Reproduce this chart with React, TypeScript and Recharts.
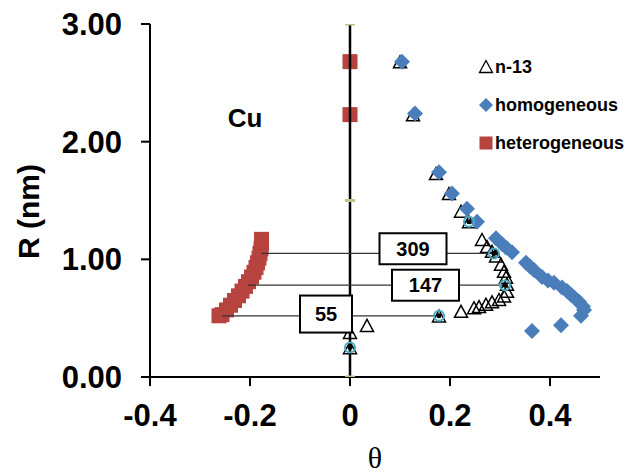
import React from "react";
import { ScatterChart, Scatter, XAxis, YAxis, ReferenceDot, Legend } from "recharts";

// theta (x) vs R in nm (y)
const n13Points = [
  { x: 0.1, y: 2.67 }, { x: 0.126, y: 2.22 }, { x: 0.172, y: 1.72 }, { x: 0.198, y: 1.55 },
  { x: 0.222, y: 1.4 }, { x: 0.238, y: 1.31 }, { x: 0.264, y: 1.16 }, { x: 0.274, y: 1.1 },
  { x: 0.284, y: 1.06 }, { x: 0.292, y: 1.02 }, { x: 0.302, y: 0.95 }, { x: 0.308, y: 0.89 },
  { x: 0.312, y: 0.84 }, { x: 0.314, y: 0.78 }, { x: 0.314, y: 0.72 }, { x: 0.308, y: 0.68 },
  { x: 0.298, y: 0.65 }, { x: 0.284, y: 0.63 }, { x: 0.272, y: 0.61 }, { x: 0.258, y: 0.59 },
  { x: 0.248, y: 0.58 }, { x: 0.222, y: 0.55 }, { x: 0.178, y: 0.51 }, { x: 0.034, y: 0.43 },
  { x: 0, y: 0.37 }, { x: 0, y: 0.24 },
];

const homogeneousPoints = [
  { x: 0.104, y: 2.68 }, { x: 0.13, y: 2.24 }, { x: 0.178, y: 1.74 }, { x: 0.204, y: 1.56 },
  { x: 0.234, y: 1.43 }, { x: 0.254, y: 1.32 }, { x: 0.292, y: 1.18 }, { x: 0.304, y: 1.13 },
  { x: 0.312, y: 1.1 }, { x: 0.324, y: 1.06 }, { x: 0.352, y: 0.97 }, { x: 0.36, y: 0.94 },
  { x: 0.368, y: 0.91 }, { x: 0.384, y: 0.85 }, { x: 0.396, y: 0.82 }, { x: 0.408, y: 0.8 },
  { x: 0.424, y: 0.76 }, { x: 0.434, y: 0.73 }, { x: 0.442, y: 0.7 }, { x: 0.45, y: 0.67 },
  { x: 0.458, y: 0.64 }, { x: 0.466, y: 0.6 }, { x: 0.468, y: 0.57 }, { x: 0.462, y: 0.52 },
  { x: 0.422, y: 0.44 }, { x: 0.364, y: 0.39 },
];

const heterogeneousPoints = [
  { x: 0, y: 2.68 }, { x: 0, y: 2.23 },
  { x: -0.177, y: 1.17 }, { x: -0.177, y: 1.13 }, { x: -0.178, y: 1.09 }, { x: -0.18, y: 1.05 },
  { x: -0.182, y: 1.01 }, { x: -0.185, y: 0.97 }, { x: -0.188, y: 0.93 }, { x: -0.192, y: 0.89 },
  { x: -0.197, y: 0.85 }, { x: -0.203, y: 0.81 }, { x: -0.209, y: 0.77 }, { x: -0.216, y: 0.73 },
  { x: -0.223, y: 0.69 }, { x: -0.231, y: 0.65 }, { x: -0.239, y: 0.61 }, { x: -0.247, y: 0.57 },
  { x: -0.256, y: 0.53 }, { x: -0.262, y: 0.52 },
];

// highlighted end points (teal rings)
const markedPoints = [
  { x: 0, y: 0.25 }, { x: 0.178, y: 0.52 }, { x: 0.31, y: 0.78 }, { x: 0.288, y: 1.05 }, { x: 0.238, y: 1.32 },
];

const zeroLine = [{ x: 0, y: 0 }, { x: 0, y: 1.5 }, { x: 0, y: 3 }];

const guideLines = [
  [{ x: -0.178, y: 1.05 }, { x: 0.284, y: 1.05 }],
  [{ x: -0.204, y: 0.78 }, { x: 0.31, y: 0.78 }],
  [{ x: -0.256, y: 0.52 }, { x: 0.178, y: 0.52 }],
];

const boxLabels = [
  { text: "309", x: 0.126, y: 1.09 },
  { text: "147", x: 0.151, y: 0.78 },
  { text: "55", x: -0.048, y: 0.535 },
];

const xTicks = [-0.4, -0.2, 0, 0.2, 0.4];
const yTicks = [0, 1, 2, 3];

const legendItems = [
  { label: "n-13", icon: "triangle" },
  { label: "homogeneous", icon: "diamond" },
  { label: "heterogeneous", icon: "square" },
];

const FONT = '"Liberation Sans", Arial, sans-serif';
const BLUE = "#4A7EBB";
const RED = "#B7433F";

const Triangle = (props: any) => {
  const { cx, cy } = props;
  return (
    <polygon
      points={`${cx},${cy - 7} ${cx - 6.5},${cy + 5} ${cx + 6.5},${cy + 5}`}
      fill="none"
      stroke="#000"
      strokeWidth={1.5}
    />
  );
};

const Diamond = (props: any) => {
  const { cx, cy } = props;
  return <polygon points={`${cx},${cy - 8} ${cx + 8},${cy} ${cx},${cy + 8} ${cx - 8},${cy}`} fill={BLUE} />;
};

const Square = (props: any) => {
  const { cx, cy } = props;
  return <rect x={cx - 7.5} y={cy - 7.5} width={15} height={15} fill={RED} />;
};

const Ring = (props: any) => {
  const { cx, cy } = props;
  return (
    <g>
      <circle cx={cx} cy={cy} r={5} fill="none" stroke="#4BACC6" strokeWidth={2} />
      <circle cx={cx} cy={cy} r={2.5} fill="#000" />
    </g>
  );
};

const GreenDash = (props: any) => {
  const { cx, cy } = props;
  return <rect x={cx - 5} y={cy - 1.5} width={10} height={3} fill="#B3C98C" />;
};

const NoDot = () => <g />;

const renderLegend = () => (
  <div style={{ fontFamily: FONT, fontWeight: "bold", fontSize: 18, color: "#000" }}>
    {legendItems.map((item) => (
      <div key={item.label} style={{ height: 38, display: "flex", alignItems: "center" }}>
        <svg width={16} height={16} style={{ display: "block" }}>
          {item.icon === "triangle" && <polygon points="8,1.5 1.5,13.5 14.5,13.5" fill="none" stroke="#000" strokeWidth={1.3} />}
          {item.icon === "diamond" && <polygon points="8,1 15,8 8,15 1,8" fill={BLUE} />}
          {item.icon === "square" && <rect x={1.5} y={1.5} width={13} height={13} fill={RED} />}
        </svg>
        <span style={{ marginLeft: 1 }}>{item.label}</span>
      </div>
    ))}
  </div>
);

const tickStyle = { fill: "#000", fontSize: 31, fontWeight: "bold", fontFamily: FONT };

export default function App() {
  return (
    <div>
      <style>{"body{margin:0}"}</style>
      <ScatterChart width={630} height={475} margin={{ top: 24, right: 30, bottom: 0, left: 0 }}>
        <XAxis
          type="number"
          dataKey="x"
          domain={[-0.4, 0.5]}
          ticks={xTicks}
          allowDataOverflow
          height={98}
          tick={tickStyle}
          tickFormatter={(v: number) => (v === 0 ? "0" : v.toFixed(1))}
          tickSize={9}
          tickMargin={18}
          axisLine={{ stroke: "#000", strokeWidth: 2 }}
          tickLine={{ stroke: "#000", strokeWidth: 2 }}
          label={{
            content: ({ viewBox }: any) => (
              <text
                x={viewBox.x + viewBox.width / 2}
                y={viewBox.y + 91}
                textAnchor="middle"
                fontFamily='"Liberation Serif", "DejaVu Serif", serif'
                fontSize={30}
              >
                θ
              </text>
            ),
          }}
        />
        <YAxis
          type="number"
          dataKey="y"
          domain={[0, 3]}
          ticks={yTicks}
          allowDataOverflow
          width={150}
          tick={tickStyle}
          tickFormatter={(v: number) => v.toFixed(2)}
          tickSize={9}
          tickMargin={19}
          axisLine={{ stroke: "#000", strokeWidth: 2 }}
          tickLine={{ stroke: "#000", strokeWidth: 2 }}
          label={{
            content: ({ viewBox }: any) => {
              const cx = 28;
              const cy = viewBox.y + viewBox.height / 2 + 11;
              return (
                <text
                  x={cx}
                  y={cy}
                  transform={`rotate(-90 ${cx} ${cy})`}
                  textAnchor="middle"
                  dominantBaseline="central"
                  fontFamily={FONT}
                  fontWeight="bold"
                  fontSize={30}
                  fill="#000"
                >
                  R (nm)
                </text>
              );
            },
          }}
        />
        <Legend
          layout="horizontal"
          verticalAlign="middle"
          align="center"
          content={renderLegend}
          wrapperStyle={{ top: 48, left: 478, width: 152, height: 114 }}
        />
        <Scatter name="heterogeneous" data={heterogeneousPoints} shape={Square} isAnimationActive={false} legendType="none" />
        <Scatter name="n-13" data={n13Points} shape={Triangle} isAnimationActive={false} legendType="none" />
        <Scatter name="homogeneous" data={homogeneousPoints} shape={Diamond} isAnimationActive={false} legendType="none" />
        <Scatter
          name="zero"
          data={zeroLine}
          shape={GreenDash}
          line={{ stroke: "#000", strokeWidth: 2.5 }}
          isAnimationActive={false}
          legendType="none"
        />
        {guideLines.map((seg, i) => (
          <Scatter
            key={`guide-${i}`}
            name={`guide-${i}`}
            data={seg}
            shape={NoDot}
            line={{ stroke: "#333", strokeWidth: 1.2 }}
            isAnimationActive={false}
            legendType="none"
          />
        ))}
        <Scatter name="marked" data={markedPoints} shape={Ring} isAnimationActive={false} legendType="none" />
        {boxLabels.map((b) => (
          <ReferenceDot
            key={b.text}
            x={b.x}
            y={b.y}
            shape={(p: any) => {
              const w = b.text.length > 2 ? 67 : 52;
              const h = b.text.length > 2 ? 31 : 37;
              return (
                <g>
                  <rect x={p.cx - w / 2} y={p.cy - h / 2} width={w} height={h} fill="#fff" stroke="#000" strokeWidth={2} />
                  <text
                    x={p.cx}
                    y={p.cy}
                    textAnchor="middle"
                    dominantBaseline="central"
                    fontFamily={FONT}
                    fontWeight="bold"
                    fontSize={20}
                    fill="#000"
                  >
                    {b.text}
                  </text>
                </g>
              );
            }}
          />
        ))}
        <ReferenceDot
          x={-0.21}
          y={2.2}
          shape={(p: any) => (
            <text x={p.cx} y={p.cy} textAnchor="middle" dominantBaseline="central" fontFamily={FONT} fontWeight="bold" fontSize={26} fill="#000">
              Cu
            </text>
          )}
        />
      </ScatterChart>
    </div>
  );
}
